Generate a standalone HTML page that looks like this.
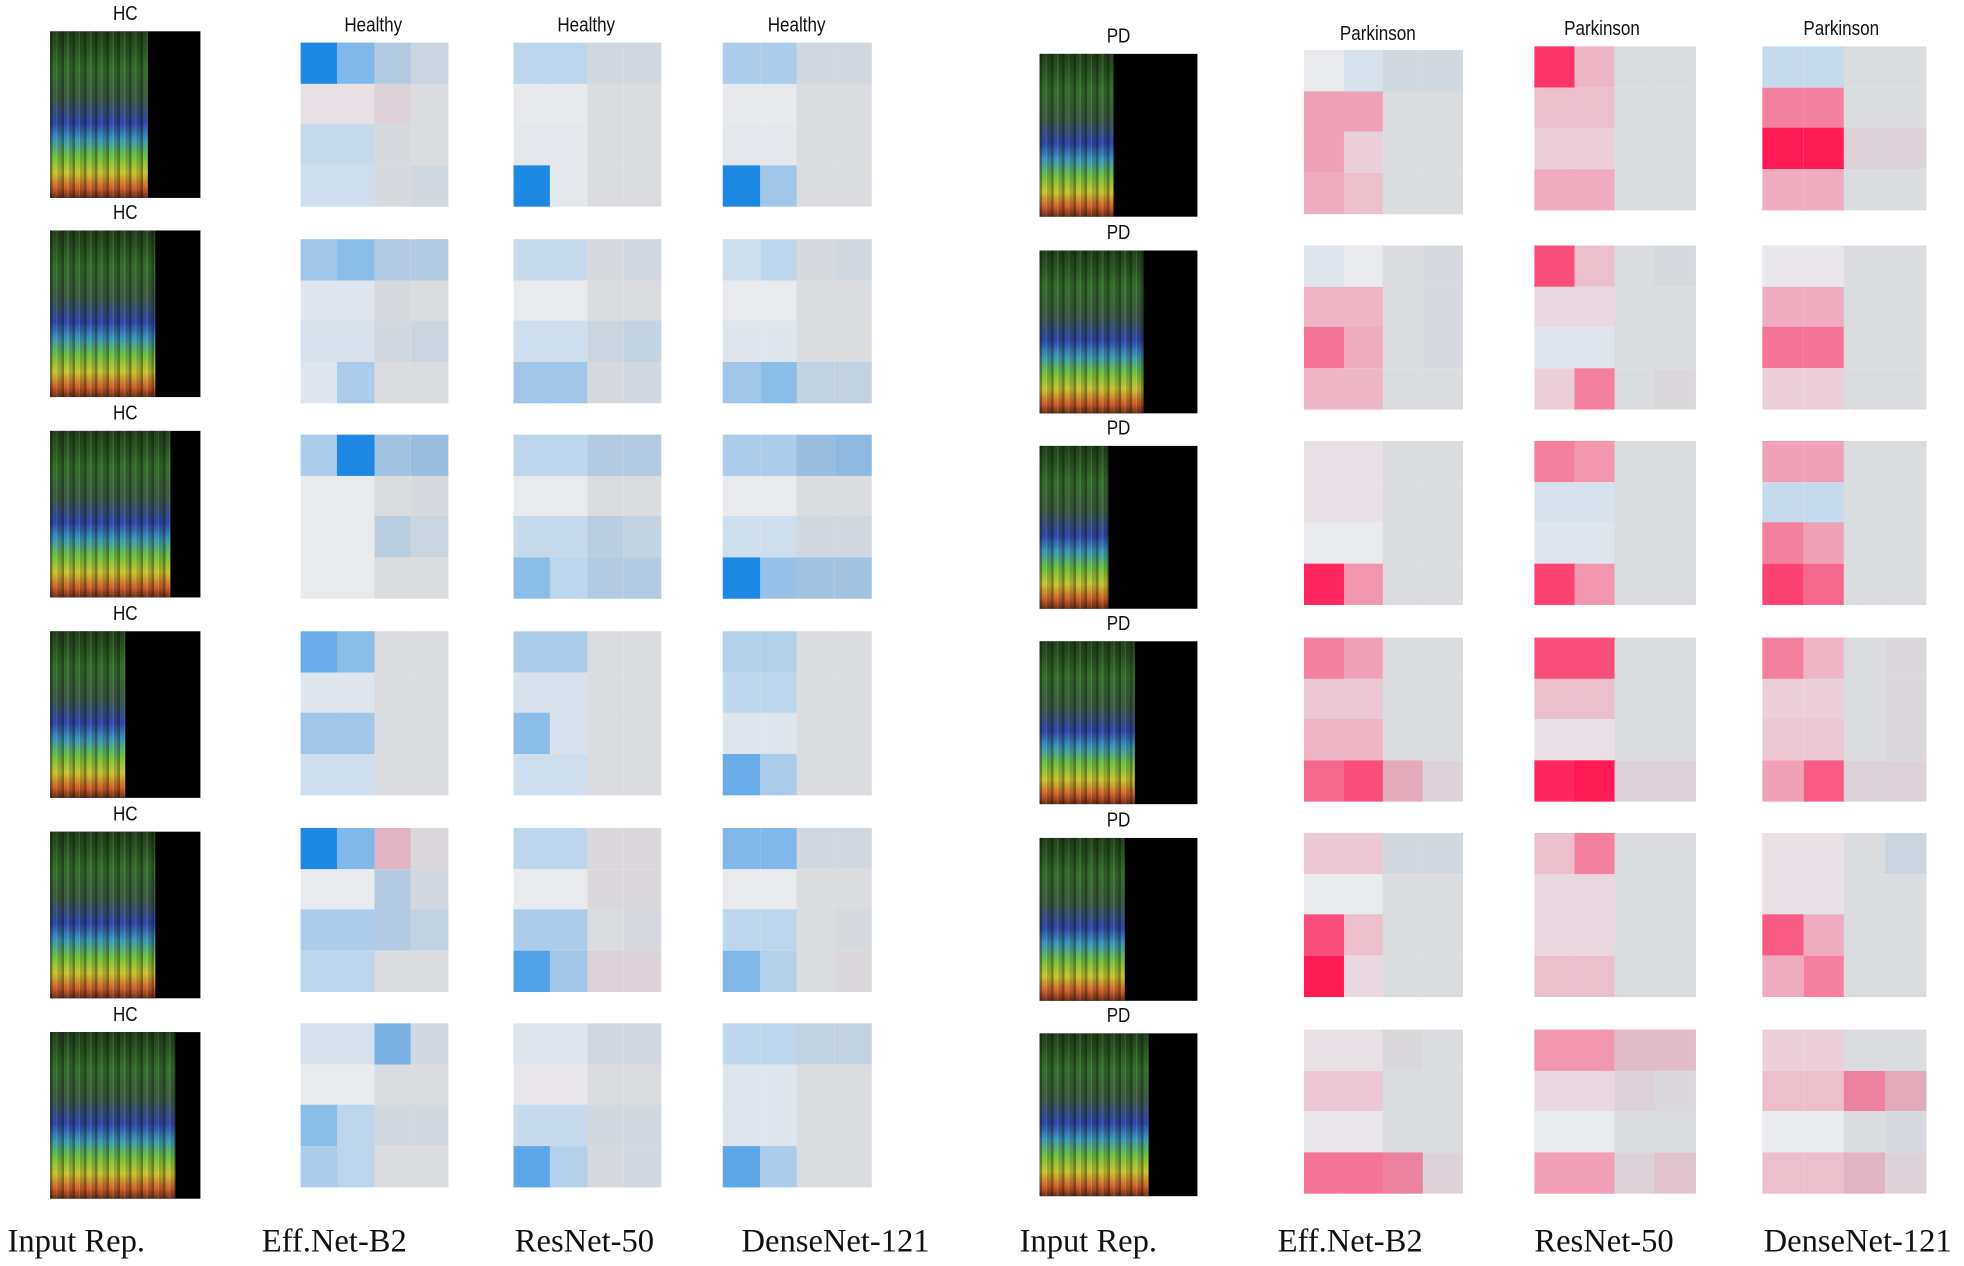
<!DOCTYPE html>
<html><head><meta charset="utf-8">
<style>
html,body{margin:0;padding:0;background:#fff;overflow:hidden}
#root{position:relative;width:1568px;height:1011px;transform:scale(1.25255);transform-origin:0 0;font-family:"Liberation Sans","DejaVu Sans",sans-serif}
.lbl{position:absolute;font-size:16px;color:#111;transform:translateX(-50%) scaleX(0.85);white-space:nowrap}
.bot{position:absolute;top:976px;font-family:"Liberation Serif",serif;font-size:26px;color:#111;white-space:nowrap}
.spec{position:absolute;background:#000;overflow:hidden}
.spec .c{position:absolute;left:0;top:0;bottom:0;
background:
repeating-linear-gradient(90deg,rgba(0,0,0,0.35) 0 2px,rgba(0,0,0,0) 2px 5px,rgba(255,255,255,0.1) 5px 6px,rgba(0,0,0,0.15) 6px 9px),
linear-gradient(180deg,#223f1c 0%,#34702a 22%,#3e5a44 40%,#3046a8 55%,#3a98b8 65%,#6ec040 75%,#c8c430 85%,#d0602c 94%,#6a3018 100%)}
.hm{position:absolute}
.cell{position:absolute}
</style></head>
<body>
<div id="root"></div>
<script>
// Heatmap values: positive = healthy (blue), negative = parkinson (pink); 4x4 row-major
const hcEff=[[1,.6,.3,.15,-.1,-.1,-.1,0,.25,.25,.05,0,.2,.2,.05,.1],[.45,.55,.3,.3,.1,.1,.05,0,.15,.15,.1,.15,.1,.4,0,0],[.4,1,.4,.45,0,0,0,.05,0,0,.25,.15,0,0,0,0],[.7,.55,0,0,.1,.1,0,0,.45,.45,0,0,.2,.2,0,0],[1,.6,-.3,-.05,0,0,.3,.1,.4,.4,.3,.2,.3,.3,0,0],[.15,.15,.6,.1,0,0,0,0,.55,.3,.1,.1,.4,.3,0,0]];
const hcRes=[[.3,.3,.1,.1,.02,.02,0,0,.05,.05,0,0,1,.05,0,0],[.25,.25,.05,.1,0,0,0,0,.2,.2,.15,.2,.45,.45,.05,.1],[.3,.3,.3,.3,0,0,0,0,.25,.25,.25,.2,.55,.3,.3,.3],[.4,.4,0,0,.15,.15,0,0,.55,.15,0,0,.2,.2,0,0],[.3,.3,-.05,-.05,0,0,-.05,-.05,.4,.4,0,.05,.8,.45,-.1,-.1],[.1,.1,.1,.1,-.05,-.05,0,0,.25,.25,.1,.1,.75,.35,.05,.1]];
const hcDense=[[.4,.4,.1,.1,.02,.02,0,0,.05,.05,0,0,1,.45,0,0],[.2,.3,.05,.1,0,0,0,0,.1,.1,0,0,.45,.55,.2,.2],[.4,.4,.45,.5,0,0,0,0,.2,.2,.1,.1,1,.5,.4,.4],[.35,.35,0,0,.3,.3,0,0,.1,.1,0,0,.7,.4,0,0],[.6,.6,.1,.1,0,0,0,0,.3,.3,0,.05,.6,.35,0,-.05],[.3,.3,.2,.2,.1,.1,0,0,.1,.1,0,0,.75,.4,0,0]];
const pdEff=[[0,.15,.1,.1,-.45,-.45,0,0,-.45,-.2,0,0,-.4,-.3,0,0],[.1,0,0,.05,-.35,-.35,0,.05,-.65,-.4,0,.05,-.35,-.35,0,0],[-.1,-.1,0,0,-.1,-.1,0,0,0,0,0,0,-.95,-.5,0,0],[-.6,-.45,0,0,-.25,-.25,0,0,-.35,-.35,0,0,-.7,-.8,-.35,-.1],[-.25,-.25,.1,.1,0,0,0,0,-.8,-.3,0,0,-1,-.15,0,0],[-.1,-.1,-.05,0,-.25,-.25,0,0,-.05,-.05,0,0,-.65,-.65,-.55,-.1]];
const pdRes=[[-.9,-.35,0,0,-.3,-.3,0,0,-.2,-.2,0,0,-.4,-.4,0,0],[-.8,-.3,0,.05,-.15,-.15,0,0,.1,.1,0,0,-.2,-.6,0,-.05],[-.6,-.5,0,0,.15,.15,0,0,.1,.1,0,0,-.85,-.5,0,0],[-.8,-.8,0,0,-.3,-.3,0,0,-.1,-.1,0,0,-.95,-1,-.1,-.1],[-.3,-.6,0,0,-.15,-.15,0,0,-.15,-.15,0,0,-.3,-.3,0,0],[-.5,-.5,-.25,-.25,-.15,-.15,-.1,-.05,0,0,0,0,-.45,-.45,-.1,-.2]];
const pdDense=[[.25,.25,0,0,-.6,-.6,0,0,-1,-1,-.1,-.1,-.4,-.4,0,0],[-.05,-.05,0,0,-.4,-.4,0,0,-.65,-.65,0,0,-.2,-.2,0,0],[-.45,-.45,0,0,.25,.25,0,0,-.6,-.45,0,0,-.85,-.7,0,0],[-.6,-.35,0,-.05,-.2,-.2,0,-.05,-.25,-.25,0,-.05,-.45,-.75,-.1,-.1],[-.1,-.1,0,.15,-.1,-.1,0,0,-.75,-.4,0,0,-.4,-.6,0,0],[-.2,-.2,0,0,-.3,-.3,-.55,-.35,0,0,0,.05,-.3,-.3,-.3,-.1]];
const hcSpecFill=[0.65,0.7,0.8,0.5,0.7,0.83];
const pdSpecFill=[0.47,0.66,0.44,0.6,0.54,0.69];

const root=document.getElementById('root');
function lerp(a,b,t){return a.map((x,i)=>Math.round(x+(b[i]-x)*t));}
function color(v,col){
  const base=col>=2?[218,220,223]:[232,234,237];
  const tgt=v>=0?[30,136,229]:[255,26,85];
  const t=Math.pow(Math.min(1,Math.abs(v)),1.3);
  const c=lerp(base,tgt,t);
  return 'rgb('+c.join(',')+')';
}
function heatmap(vals,x,y,w,h,name){
  const d=document.createElement('div');
  d.className='hm';
  
  
  d.style.cssText='left:'+x+'px;top:'+y+'px;width:'+w+'px;height:'+h+'px';
  vals.forEach((v,i)=>{
    const r=Math.floor(i/4),c=i%4;
    const e=document.createElement('div');
    e.className='cell';
    
    
    e.style.cssText='left:'+(c*w/4)+'px;top:'+(r*h/4)+'px;width:'+(w/4+0.5)+'px;height:'+(h/4+0.5)+'px;background:'+color(v,c);
    d.appendChild(e);
  });
  root.appendChild(d);
}
function spec(fill,x,y,w,h,name){
  const d=document.createElement('div');
  d.className='spec';
  
  
  d.style.cssText='left:'+x+'px;top:'+y+'px;width:'+w+'px;height:'+h+'px';
  const c=document.createElement('div');c.className='c';c.style.width=(fill*100)+'%';
  d.appendChild(c);root.appendChild(d);
}
function label(txt,x,y,name,size){
  const l=document.createElement('div');
  l.className='lbl';
  
  
  l.textContent=txt;l.style.left=x+'px';l.style.top=y+'px';
  if(size)l.style.fontSize=size+'px';
  root.appendChild(l);
}
const hcSpecY=[25,184,344,504,664,824];
const hcHmY=[34,191,347,504,661,817];
const pdSpecY=[43,200,356,512,669,825];
const pdHmY=[40,196,352,509,665,822];
for(let r=0;r<6;r++){
  label('HC',100,hcSpecY[r]-22,'hc-label');
  spec(hcSpecFill[r],40,hcSpecY[r],120,133,'hc-spectrogram');
  heatmap(hcEff[r],240,hcHmY[r],117,130,'hc-effnet-heatmap');
  heatmap(hcRes[r],410,hcHmY[r],117,130,'hc-resnet-heatmap');
  heatmap(hcDense[r],577,hcHmY[r],118,130,'hc-densenet-heatmap');
  label('PD',893,pdSpecY[r]-22,'pd-label');
  spec(pdSpecFill[r],830,pdSpecY[r],126,130,'pd-spectrogram');
  heatmap(pdEff[r],1041,pdHmY[r],126,130,'pd-effnet-heatmap');
  heatmap(pdRes[r],1225,pdHmY[r]-(r==0?3:0),128,130,'pd-resnet-heatmap');
  heatmap(pdDense[r],1407,pdHmY[r]-(r==0?3:0),130,130,'pd-densenet-heatmap');
}
label('Healthy',298,12,'healthy-title');
label('Healthy',468,12,'healthy-title');
label('Healthy',636,12,'healthy-title');
label('Parkinson',1100,19,'parkinson-title');
label('Parkinson',1279,15,'parkinson-title');
label('Parkinson',1470,15,'parkinson-title');
const bots=[['Input Rep.',6],['Eff.Net-B2',209],['ResNet-50',411],['DenseNet-121',592],['Input Rep.',814],['Eff.Net-B2',1020],['ResNet-50',1225],['DenseNet-121',1408]];
bots.forEach(b=>{
  const e=document.createElement('div');
  e.className='bot';
  
  
  e.textContent=b[0];e.style.left=b[1]+'px';
  root.appendChild(e);
});
</script>
</body></html>
